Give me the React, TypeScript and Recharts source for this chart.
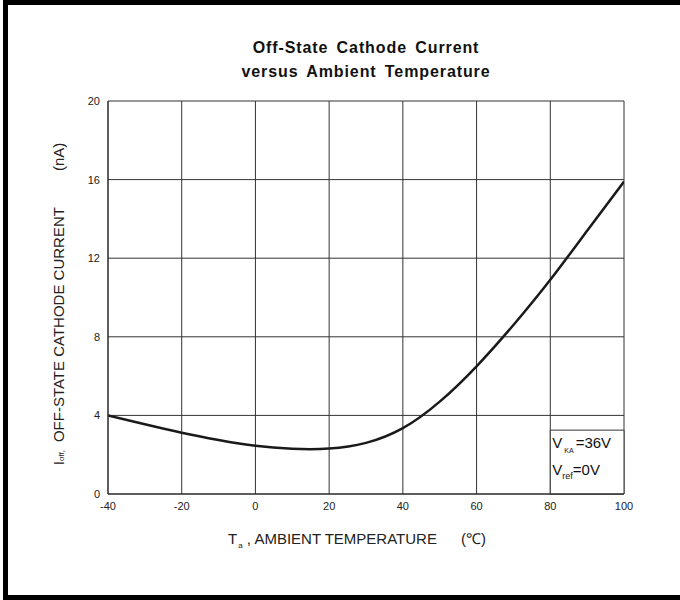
import React from 'react';
import { LineChart, Line, XAxis, YAxis, CartesianGrid, ReferenceArea } from 'recharts';

const temps = [-40, -30, -20, -10, 0, 10, 20, 30, 40, 50, 60, 70, 80, 90, 100];
const currents = [4.0, 3.55, 3.12, 2.75, 2.45, 2.3, 2.31, 2.6, 3.35, 4.7, 6.5, 8.6, 10.9, 13.4, 15.9];
const xTicks = [-40, -20, 0, 20, 40, 60, 80, 100];
const yTicks = [0, 4, 8, 12, 16, 20];
const titleLines = ['Off-State Cathode Current', 'versus Ambient Temperature'];

const data = temps.map((t, i) => ({ t, cur: currents[i] }));
const FONT = '"Liberation Sans", Arial, Helvetica, sans-serif';

const LegendLabel = (props: any) => {
  const vb = props.viewBox || {};
  const x = vb.x ?? 0;
  const y = vb.y ?? 0;
  return (
    <g fontFamily={FONT} fill="#111">
      <text x={x + 2} y={y + 18} fontSize={15}>
        V<tspan fontSize={7} dx={2} dy={5}>KA</tspan>
        <tspan fontSize={15} dx={2} dy={-5}>=36V</tspan>
      </text>
      <text x={x + 2} y={y + 45} fontSize={15}>
        V<tspan fontSize={9} dy={4}>ref</tspan>
        <tspan fontSize={15} dy={-4}>=0V</tspan>
      </text>
    </g>
  );
};

const tickStyle = { fontSize: 11, fill: '#222', stroke: 'none', fontFamily: FONT };

export default function App() {
  return (
    <div style={{ position: 'absolute', left: 0, top: 0, width: 680, height: 600, background: '#fff' }}>
      <div
        style={{
          position: 'absolute',
          left: 3,
          top: 0,
          width: 677,
          height: 600,
          boxSizing: 'border-box',
          borderTop: '5px solid #000',
          borderLeft: '5px solid #000',
          borderBottom: '5px solid #000',
        }}
      />
      <div style={{ position: 'absolute', left: 0, top: 0 }}>
        <LineChart
          width={680}
          height={600}
          data={data}
          margin={{ top: 101, right: 56, bottom: 76, left: 68 }}
        >
          <CartesianGrid stroke="#333" strokeWidth={1} horizontal vertical />
          <XAxis
            dataKey="t"
            type="number"
            domain={[-40, 100]}
            ticks={xTicks}
            height={30}
            axisLine={{ stroke: '#222' }}
            tickLine={false}
            tick={tickStyle}
            allowDataOverflow
          />
          <YAxis
            type="number"
            domain={[0, 20]}
            ticks={yTicks}
            width={40}
            axisLine={{ stroke: '#222' }}
            tickLine={false}
            tick={tickStyle}
            allowDataOverflow
          />
          <ReferenceArea
            x1={80}
            x2={100}
            y1={0}
            y2={3.25}
            fill="#fff"
            fillOpacity={1}
            stroke="#333"
            strokeWidth={1}
            label={(p: any) => <LegendLabel {...p} />}
            ifOverflow="visible"
          />
          <Line
            type="natural"
            dataKey="cur"
            stroke="#1a1a1a"
            strokeWidth={2.5}
            dot={false}
            isAnimationActive={false}
          />
        </LineChart>
      </div>
      <svg
        width={680}
        height={600}
        style={{ position: 'absolute', left: 0, top: 0, pointerEvents: 'none' }}
        fontFamily={FONT}
      >
        <text x={366} y={53} textAnchor="middle" fontSize={16} fontWeight="bold" fill="#111" letterSpacing={0.9} wordSpacing={3}>
          {titleLines[0]}
        </text>
        <text x={366} y={77} textAnchor="middle" fontSize={16} fontWeight="bold" fill="#111" letterSpacing={0.9} wordSpacing={3}>
          {titleLines[1]}
        </text>
        <g transform="rotate(-90, 58, 304)">
          <text x={58} y={304} textAnchor="middle" dominantBaseline="central" fontSize={15} fill="#222">
            I<tspan fontSize={8} dy={3}>off,</tspan>
            <tspan fontSize={15} dy={-3} dx={8}>OFF-STATE CATHODE CURRENT</tspan>
            <tspan fontSize={15} dx={36}>(nA)</tspan>
          </text>
        </g>
        <text x={357} y={544} textAnchor="middle" fontSize={15} fill="#222">
          T<tspan fontSize={8} dy={4} dx={1}>a</tspan>
          <tspan fontSize={15} dy={-4}> , AMBIENT TEMPERATURE</tspan>
          <tspan fontSize={15} dx={24}>(℃)</tspan>
        </text>
      </svg>
    </div>
  );
}
